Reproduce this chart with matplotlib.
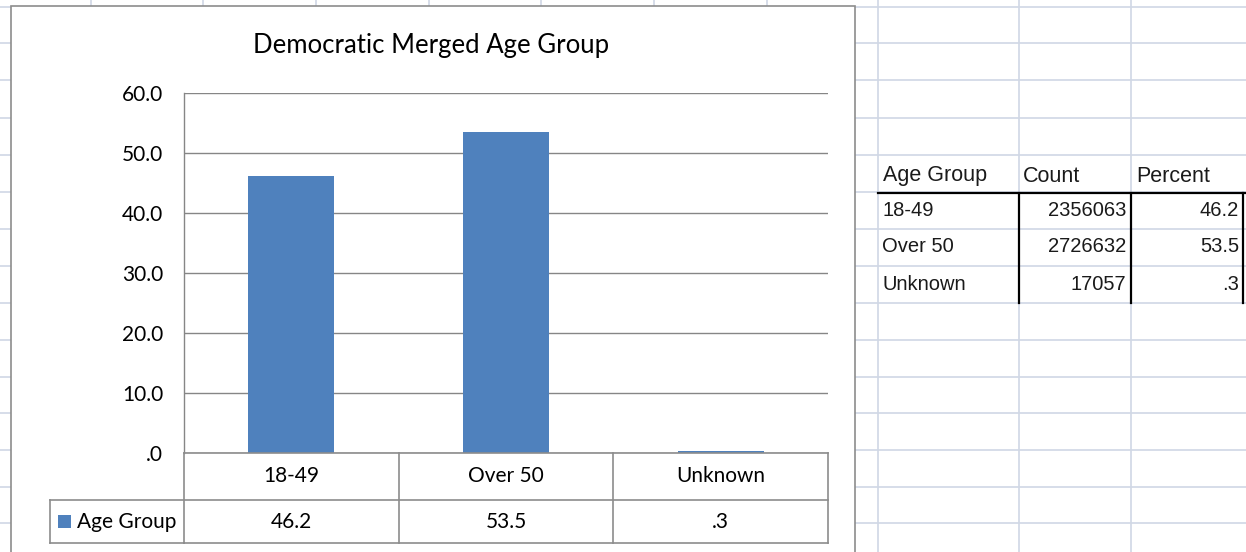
import matplotlib
matplotlib.use("Agg")
import matplotlib.pyplot as plt
from matplotlib.patches import Rectangle
from matplotlib.ticker import FuncFormatter
import matplotlib.transforms as mtransforms
from matplotlib import font_manager

# ---------------- data ----------------
title = "Democratic Merged Age Group"
series_name = "Age Group"
categories = ["18-49", "Over 50", "Unknown"]
percents = [46.2, 53.5, 0.3]
counts = [2356063, 2726632, 17057]
sheet_headers = ["Age Group", "Count", "Percent"]
y_ticks = [0, 10, 20, 30, 40, 50, 60]

def fmt_pct(v):
    s = f"{v:.1f}"
    if s.startswith("0"):
        s = s[1:]
    return s

names = {f.name for f in font_manager.fontManager.ttflist}
SFONT = "Liberation Sans Narrow" if "Liberation Sans Narrow" in names else "Liberation Sans"
narrow = SFONT == "Liberation Sans Narrow"

W, H = 1246, 552
fig = plt.figure(figsize=(W / 100, H / 100), dpi=100)

def frac(x0, y0, x1, y1):
    return [x0 / W, 1 - y1 / H, (x1 - x0) / W, (y1 - y0) / H]

# background sheet
bg = fig.add_axes([0, 0, 1, 1], zorder=0)
bg.set_xlim(0, W)
bg.set_ylim(H, 0)
bg.axis("off")

GRID = "#D0D7E5"
row_lines = [6.5, 43, 80, 118, 155, 192, 229, 266, 303, 340, 377, 413, 450, 487, 523]
col_lines = [91, 203, 316, 429, 541, 654, 767, 878, 1019, 1131]
for y in row_lines:
    bg.plot([0, W], [y, y], color=GRID, lw=1.2, zorder=1)
for x in col_lines:
    bg.plot([x, x], [0, H], color=GRID, lw=1.2, zorder=1)

# chart area
bg.add_patch(Rectangle((11, 6), 844, 600, facecolor="white", edgecolor="#8C8C8C",
                       lw=1.2, zorder=2))
bg.text(431, 45, title, ha="center", va="center", fontsize=18.5,
        family="Lato", zorder=3)

# spreadsheet table
hfs = 17.5 if narrow else 15.5
dfs = 16.5 if narrow else 14.5
STXT = "#1A1A1A"
hdr_x = [883, 1023, 1136]
for hx, h in zip(hdr_x, sheet_headers):
    bg.text(hx, 176, h, ha="left", va="center", fontsize=hfs, family=SFONT,
            color=STXT, zorder=3)
row_c = [210.5, 247, 284]
for yc, cat, cnt, p in zip(row_c, categories, counts, percents):
    bg.text(882, yc, cat, ha="left", va="center", fontsize=dfs, family=SFONT,
            color=STXT, zorder=3)
    bg.text(1126, yc, str(cnt), ha="right", va="center", fontsize=dfs, family=SFONT,
            color=STXT, zorder=3)
    bg.text(1239, yc, fmt_pct(p), ha="right", va="center", fontsize=dfs, family=SFONT,
            color=STXT, zorder=3)
bg.plot([878, 1246], [193, 193], color="black", lw=1.6, zorder=3)
for x in [1019, 1131, 1243]:
    bg.plot([x, x], [193, 303], color="black", lw=1.6, zorder=3)

# chart plot area
BAR = "#4F81BD"
LINE = "#868686"
ax = fig.add_axes(frac(184, 93, 828, 453), zorder=5)
ax.patch.set_alpha(0)
x = list(range(len(categories)))
ax.bar(x, percents, width=0.4, color=BAR, zorder=3)
ax.set_xlim(-0.5, len(categories) - 0.5)
ax.set_ylim(y_ticks[0], y_ticks[-1])
ax.set_yticks(y_ticks)
ax.yaxis.set_major_formatter(FuncFormatter(lambda v, _: fmt_pct(v)))
ax.set_xticks([])
ax.tick_params(axis="y", length=0, pad=15, labelsize=15)
for lab in ax.get_yticklabels():
    lab.set_family("Lato")
ax.yaxis.grid(True, color=LINE, lw=1.0, zorder=1)
for s in ["top", "right", "bottom"]:
    ax.spines[s].set_visible(False)
ax.spines["left"].set_color(LINE)
ax.spines["left"].set_linewidth(1.0)

# data table under the plot
tr = mtransforms.blended_transform_factory(ax.transData, ax.transAxes)
h_ax = 360.0
r1 = -47 / h_ax   # bottom of category row
r2 = -90 / h_ax   # bottom of value row
left_leg = -(184 - 50) / 644.0
n = len(categories)
TL = "#8C8C8C"
kw = dict(color=TL, lw=1.2, clip_on=False, zorder=4)
ax.plot([-0.5, n - 0.5], [0, 0], transform=tr, **kw)
ax.plot([-0.5, n - 0.5], [r2, r2], transform=tr, **kw)
ax.plot([left_leg, 1], [r1, r1], transform=ax.transAxes, **kw)
ax.plot([left_leg, 0], [r2, r2], transform=ax.transAxes, **kw)
ax.plot([left_leg, left_leg], [r1, r2], transform=ax.transAxes, **kw)
for b in [i - 0.5 for i in range(n + 1)]:
    ax.plot([b, b], [0, r2], transform=tr, **kw)
for i, (cat, p) in enumerate(zip(categories, percents)):
    ax.text(i, r1 / 2, cat, transform=tr, ha="center", va="center",
            fontsize=15, family="Lato", clip_on=False)
    ax.text(i, (r1 + r2) / 2, fmt_pct(p), transform=tr, ha="center", va="center",
            fontsize=15, family="Lato", clip_on=False)
# legend key
ax.add_patch(Rectangle((left_leg + 8 / 644, (r1 + r2) / 2 - 6.5 / h_ax), 13 / 644, 13 / h_ax,
                       transform=ax.transAxes, facecolor=BAR, edgecolor="none",
                       clip_on=False, zorder=5))
ax.text(left_leg + 27 / 644, (r1 + r2) / 2, series_name, transform=ax.transAxes,
        ha="left", va="center", fontsize=15, family="Lato", clip_on=False)

fig.savefig("out.png", dpi=100)
